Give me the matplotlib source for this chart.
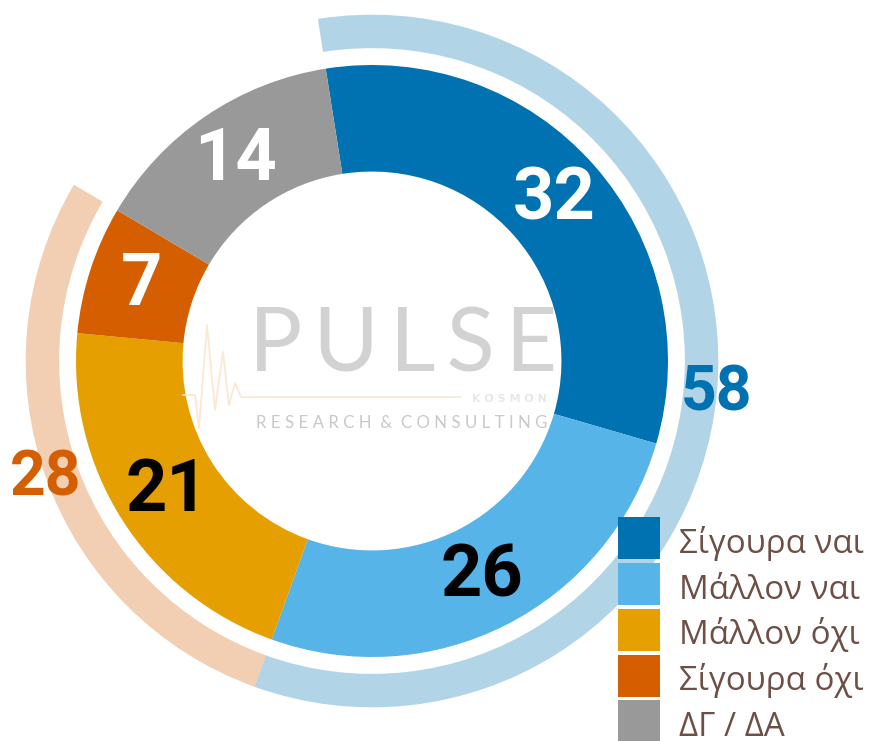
import matplotlib.pyplot as plt
from matplotlib.colors import to_rgba
from matplotlib.patches import Patch, Rectangle
from matplotlib.legend_handler import HandlerPatch

# dados da pesquisa (valores em %)
categorias = ['Σίγουρα ναι', 'Μάλλον ναι', 'Μάλλον όχι', 'Σίγουρα όχι', 'ΔΓ / ΔΑ']
valores = [32, 26, 21, 7, 14]
cores = ['#0072B2', '#56B4E9', '#E69F00', '#D55E00', '#999999']
cores_texto = ['white', 'black', 'black', 'white', 'white']

# anel externo: totais agrupados (ναι / όχι), o último fica invisível
grupos = ['Ναι', 'Όχι', 'ΔΓ / ΔΑ']
valores_grupos = [58, 28, 14]
cores_grupos = ['#0072B2', '#D55E00', '#999999']

FONTE_NUM = 'Roboto'
COR_LEGENDA = '#6d4f46'

# escala: 296 px por unidade, centro do donut em (372, 361)
ESCALA = 296.0
CX, CY = 372.0, 361.0
W, H = 869, 741


def px(x, y):
    """converte pixel da imagem para coordenada do eixo"""
    return (x - CX) / ESCALA, (CY - y) / ESCALA


def quadrado(legend, orig_handle, xdescent, ydescent, width, height, fontsize):
    # ocupa a caixa inteira do handle (inclui o descent)
    return Rectangle((-xdescent, -ydescent), width, height + ydescent)


fig = plt.figure(figsize=(W / 100, H / 100), dpi=100)
ax = fig.add_axes([0, 0, 1, 1])

# anel externo claro
fatias_ext, _, textos_ext = ax.pie(
    valores_grupos, radius=1.17, startangle=99, counterclock=False,
    colors=[to_rgba(c, 0.3) for c in cores_grupos],
    wedgeprops=dict(width=0.113, linewidth=0),
    autopct='%.0f', pctdistance=1.0,
    textprops=dict(fontsize=45, fontweight='bold', family=FONTE_NUM))
fatias_ext[2].set_visible(False)
textos_ext[2].set_visible(False)
for t, c in zip(textos_ext, cores_grupos):
    t.set_color(c)

# donut principal
fatias, _, textos = ax.pie(
    valores, radius=1.0, startangle=99, counterclock=False, colors=cores,
    wedgeprops=dict(width=0.36, linewidth=0),
    autopct='%.0f', pctdistance=0.82,
    textprops=dict(fontsize=52, fontweight='bold', family=FONTE_NUM))
for t, c in zip(textos, cores_texto):
    t.set_color(c)

# marca d'água no centro
pulso = [(183, 395), (195, 395), (199, 428), (207, 325), (215, 410), (223, 352),
         (229, 405), (235, 383), (241, 397), (460, 397)]
xs, ys = zip(*[px(x, y) for x, y in pulso])
ax.plot(xs, ys, color='#fce8d3', lw=1.3, zorder=3)
hs = '\u200a\u200a'
ax.text(*px(403, 372), hs.join('PULSE'), ha='center', va='baseline',
        fontsize=64, color='#d2d2d2', family=['Lato', 'DejaVu Sans'],
        fontweight='normal', zorder=4)
ax.text(*px(509, 402), 'K O S M O N', ha='center', va='baseline', fontsize=8,
        color='#e8e8e8', fontweight='bold', zorder=4)
ax.text(*px(402, 428), 'R E S E A R C H  &  C O N S U L T I N G', ha='center',
        va='baseline', fontsize=12.2, color='#c9c9c9', family=['Lato', 'DejaVu Sans'],
        zorder=4)

ax.set_xlim(-CX / ESCALA, (W - CX) / ESCALA)
ax.set_ylim(-(H - CY) / ESCALA, CY / ESCALA)
ax.set_aspect('auto')
ax.axis('off')

# legenda
handles = [Patch(facecolor=c, edgecolor='none') for c in cores]
leg = ax.legend(handles, categorias, loc='upper left',
                bbox_to_anchor=(618 / W, 1 - 524 / H), frameon=False,
                borderpad=0, borderaxespad=0, handlelength=1.27, handleheight=1.27,
                handletextpad=0.58, labelspacing=0.27,
                handler_map={Patch: HandlerPatch(patch_func=quadrado)},
                prop=dict(family='Open Sans', size=23.8))
for t in leg.get_texts():
    t.set_color(COR_LEGENDA)

fig.savefig('out.png', dpi=100)
